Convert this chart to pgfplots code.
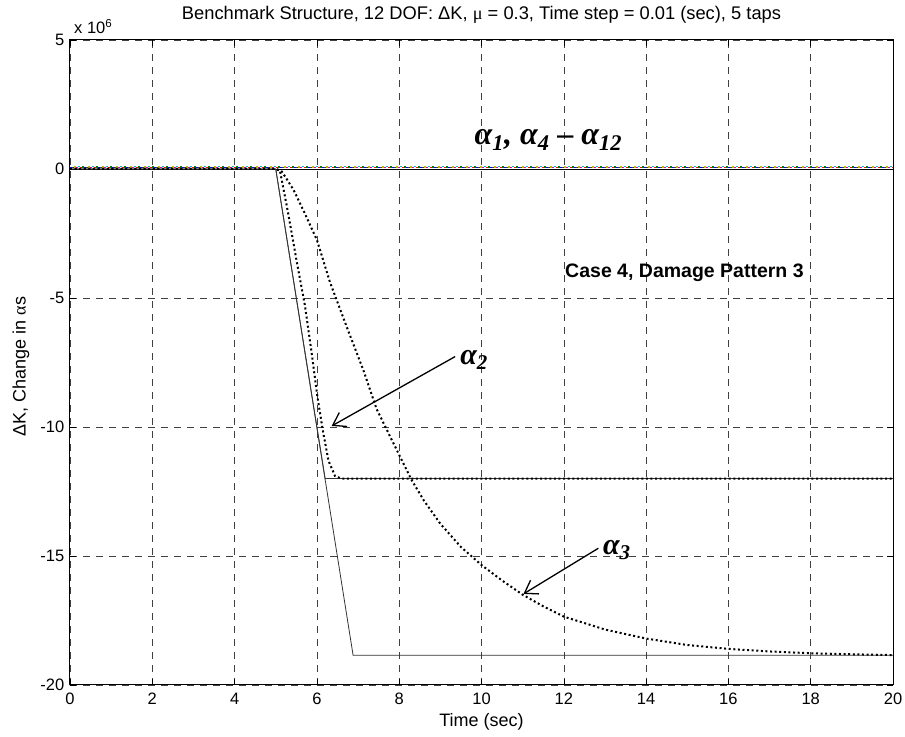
\documentclass[border=0pt]{standalone}
\usepackage{fontspec}
\setmainfont{Liberation Sans}
\newfontfamily\timesf{Liberation Serif}
\usepackage{pgfplots}
\pgfplotsset{compat=1.18}
\usetikzlibrary{arrows.meta}
\definecolor{mblue}{rgb}{0,0,1}
\definecolor{mgreen}{rgb}{0,0.5,0}
\definecolor{mred}{rgb}{1,0,0}
\definecolor{mcyan}{rgb}{0,0.75,0.75}
\definecolor{mmag}{rgb}{0.75,0,0.75}
\definecolor{myel}{rgb}{0.75,0.75,0}
\definecolor{mgray}{rgb}{0.25,0.25,0.25}
\begin{document}
\fontsize{16.5}{19}\selectfont
\begin{tikzpicture}
\begin{axis}[
  scale only axis, width=823pt, height=645pt,
  xmin=0, xmax=20, ymin=-20, ymax=5,
  xtick={0,2,...,20}, ytick={-20,-15,-10,-5,0,5},
  grid=major,
  grid style={dash pattern=on 7pt off 6pt, black!75, line width=0.6pt},
  tick align=inside, major tick length=6pt,
  tick style={black, line width=0.6pt},
  axis line style={line width=1pt},
  /pgf/number format/assume math mode=true,
  tick label style={font=\fontsize{16.5}{19}\selectfont},
  xticklabel style={yshift=-2pt},
  xlabel={Time (sec)},
  ylabel={ΔK, Change in {\timesf α}s},
  title={Benchmark Structure, 12 DOF: ΔK, {\timesf μ} = 0.3, Time step = 0.01 (sec), 5 taps},
  every axis x label/.style={at={(axis description cs:0.5,0)}, yshift=-37pt, anchor=center, font=\fontsize{18}{20}\selectfont},
  every axis y label/.style={at={(axis description cs:0,0.5)}, xshift=-49pt, yshift=-4pt, rotate=90, anchor=center, font=\fontsize{18}{20}\selectfont},
  every axis title/.style={at={(axis description cs:0.5,1)}, yshift=25pt, anchor=center, font=\fontsize{18.3}{20}\selectfont},
  clip=false,
]
% near-zero noisy estimates (alpha1, alpha4-alpha12)
\addplot[mblue, line width=1.3pt, dash pattern=on 2pt off 12pt] coordinates {(0,0.06) (20,0.06)};
\addplot[mgreen, line width=1.3pt, dash pattern=on 2pt off 12pt, dash phase=2pt] coordinates {(0,0.08) (20,0.08)};
\addplot[mred, line width=1.3pt, dash pattern=on 2pt off 12pt, dash phase=4pt] coordinates {(0,0.05) (20,0.05)};
\addplot[mcyan, line width=1.3pt, dash pattern=on 2pt off 12pt, dash phase=6pt] coordinates {(0,0.09) (20,0.09)};
\addplot[mmag, line width=1.3pt, dash pattern=on 2pt off 12pt, dash phase=8pt] coordinates {(0,0.06) (20,0.06)};
\addplot[myel, line width=1.3pt, dash pattern=on 2pt off 12pt, dash phase=10pt] coordinates {(0,0.08) (20,0.08)};
\addplot[mgray, line width=1.3pt, dash pattern=on 2pt off 12pt, dash phase=12pt] coordinates {(0,0.07) (20,0.07)};
% true values
\addplot[black, line width=0.9pt] coordinates {(0,0) (20,0)};
\addplot[black!80, line width=0.8pt] coordinates {(0,0) (5,0) (6.2,-12) (20,-12)};
\addplot[black!80, line width=0.8pt] coordinates {(0,0) (5,0) (6.88,-18.85) (20,-18.85)};
% alpha2 estimate
\addplot[black, line width=2pt, dash pattern=on 2pt off 2.6pt] coordinates {
 (0,0) (5,0) (5.1,-0.05) (5.3,-1.7) (5.5,-3.5) (5.71,-5.3) (5.87,-7.1) (6.01,-8.8)
 (6.14,-10.1) (6.28,-11.3) (6.44,-11.9) (6.6,-12.0) (20,-12.0)};
% alpha3 estimate
\addplot[black, line width=2pt, dash pattern=on 2pt off 2.6pt] coordinates {
 (0,0) (5,0) (5.15,-0.1) (5.43,-0.8) (5.7,-1.7) (6.0,-2.75) (6.32,-4.4) (6.72,-6.1)
 (7.13,-7.8) (7.45,-9.3) (7.85,-10.6) (8.3,-12.05) (8.6,-12.85) (9.0,-13.75)
 (9.5,-14.65) (10.0,-15.35) (10.5,-15.95) (11.0,-16.5) (11.5,-16.95) (12.0,-17.35)
 (13.0,-17.85) (14.0,-18.2) (15.0,-18.45) (16.0,-18.6) (17.0,-18.7) (18.0,-18.77)
 (19.0,-18.81) (20.0,-18.84)};
% annotations
\node[anchor=west, inner sep=0pt] at (axis cs:9.83,1.12)
  {\timesf\bfseries\itshape\fontsize{32}{34}\selectfont α\textsubscript{1}, α\textsubscript{4} – α\textsubscript{12}};
\node[anchor=west, inner sep=0pt] at (axis cs:12.03,-4.03)
  {\bfseries\fontsize{19.5}{22}\selectfont Case 4, Damage Pattern 3};
\node[anchor=west, inner sep=0pt] at (axis cs:9.48,-7.4)
  {\timesf\bfseries\itshape\fontsize{30}{32}\selectfont α\textsubscript{2}};
\node[anchor=west, inner sep=0pt] at (axis cs:12.95,-14.77)
  {\timesf\bfseries\itshape\fontsize{30}{32}\selectfont α\textsubscript{3}};
\draw[line width=1.3pt, -{Straight Barb[length=12pt, width=16pt]}] (axis cs:9.36,-7.27) -- (axis cs:6.36,-9.96);
\draw[line width=1.3pt, -{Straight Barb[length=12pt, width=16pt]}] (axis cs:12.84,-14.7) -- (axis cs:11.02,-16.47);
\node[anchor=south west, inner sep=0pt] at ([xshift=4pt, yshift=6pt]axis description cs:0,1)
  {x 10\textsuperscript{6}};
\end{axis}
\pgfresetboundingbox
\useasboundingbox ([shift={(-70pt,-52pt)}]current axis.south west) rectangle ([shift={(12pt,40pt)}]current axis.north east);
\end{tikzpicture}
\end{document}
